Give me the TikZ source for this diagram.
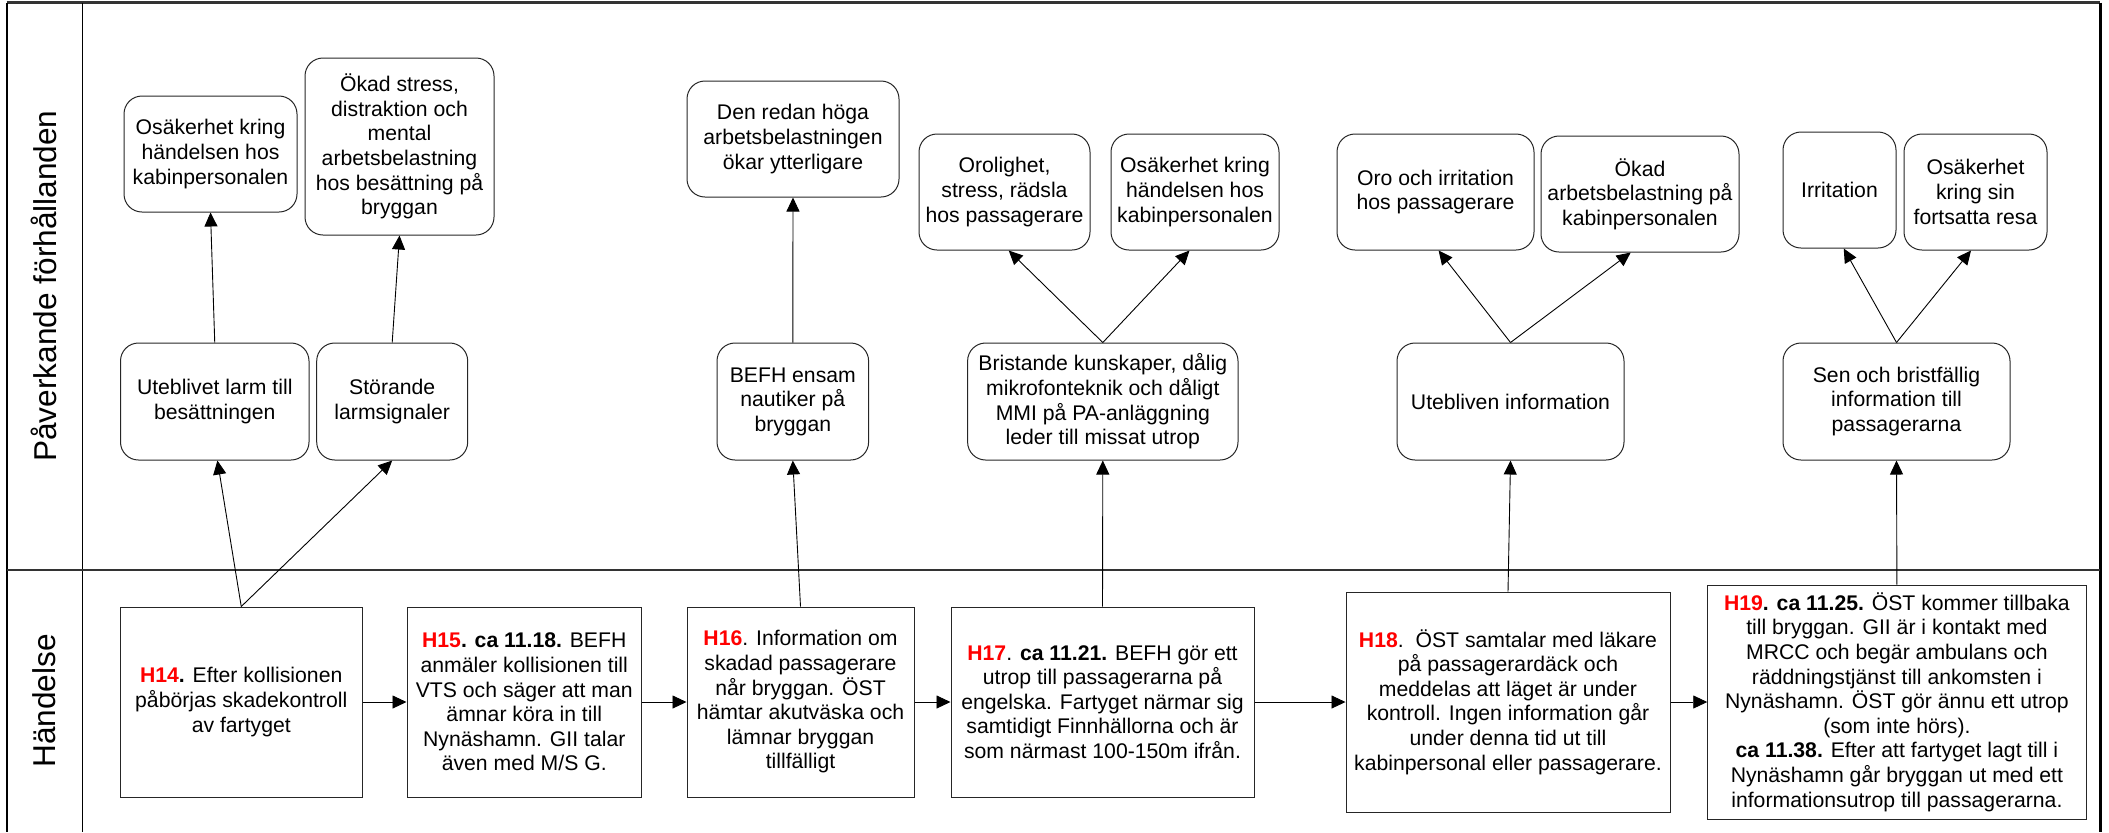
\documentclass[tikz,border=0pt]{standalone}
\usepackage{fontspec}
\setmainfont{Liberation Sans}
\usetikzlibrary{arrows.meta,calc}
\newcommand{\hid}[1]{\textcolor{red}{\bfseries #1}}
\begin{document}
\begin{tikzpicture}[x=0.5pt,y=-0.5pt,
  every node/.style={font=\fontsize{10.6}{12.3}\selectfont, align=center, inner sep=0pt},
  sz/.style 2 args={minimum width=#1*0.5pt, minimum height=#2*0.5pt},
  cbox/.style={draw=black!85, line width=0.5pt, rounded corners=9pt},
  ebox/.style={draw=black!85, line width=0.5pt},
  arr/.style={-{Triangle[length=7pt,width=6.5pt]}, line width=0.45pt},
  lane/.style={font=\fontsize{15.8}{18}\selectfont, rotate=90}
]
\useasboundingbox (0,0) rectangle (2109,832);

% frame
\draw[line width=1.4pt, black!80] (6.7,2.7) -- (2100,2.7);
\draw[line width=1.5pt] (2100,2.7) -- (2100,832);
\draw[line width=0.9pt] (6.7,2.7) -- (6.7,832);
\draw[line width=0.7pt] (82.5,2.7) -- (82.5,832);
\draw[line width=1pt, black!80] (6.7,570) -- (2100,570);

\node[lane] (L1) at (44,286) {Påverkande förhållanden};
\node[lane] (L2) at (44,701) {Händelse};

% top row
\node[cbox, sz={173}{116}] (A1) at (210.5,154) {Osäkerhet kring\\händelsen hos\\kabinpersonalen};
\node[cbox, sz={189}{177}] (A2) at (399.5,146.5) {Ökad stress,\\distraktion och\\mental\\arbetsbelastning\\hos besättning på\\bryggan};
\node[cbox, sz={212}{116}] (B1) at (793,139) {Den redan höga\\arbetsbelastningen\\ökar ytterligare};
\node[cbox, sz={171}{116}] (C1) at (1004.5,192) {Orolighet,\\stress, rädsla\\hos passagerare};
\node[cbox, sz={168}{116}] (C2) at (1195,192) {Osäkerhet kring\\händelsen hos\\kabinpersonalen};
\node[cbox, sz={197}{116}] (D1) at (1435.5,192) {Oro och irritation\\hos passagerare};
\node[cbox, sz={198}{116}] (D2) at (1640,194) {Ökad\\arbetsbelastning på\\kabinpersonalen};
\node[cbox, sz={113}{116}] (E1) at (1839.5,190) {Irritation};
\node[cbox, sz={143}{116}] (E2) at (1975.5,192) {Osäkerhet\\kring sin\\fortsatta resa};

% middle row
\node[cbox, sz={188.5}{117}] (a) at (214.75,401.5) {Uteblivet larm till\\besättningen};
\node[cbox, sz={151}{117}] (b) at (392.2,401.5) {Störande\\larmsignaler};
\node[cbox, sz={151.6}{117}] (c) at (792.8,401.5) {BEFH ensam\\nautiker på\\bryggan};
\node[cbox, sz={270.4}{117}] (d) at (1102.8,401.5) {Bristande kunskaper, dålig\\mikrofonteknik och dåligt\\MMI på PA-anläggning\\leder till missat utrop};
\node[cbox, sz={227}{117}] (e) at (1510.5,401.5) {Utebliven information};
\node[cbox, sz={227}{117}] (f) at (1896.5,401.5) {Sen och bristfällig\\information till\\passagerarna};

% event row
\node[ebox, sz={241.5}{190}] (H14) at (241.25,702) {\hid{H14}\textbf{.} Efter kollisionen\\påbörjas skadekontroll\\av fartyget};
\node[ebox, sz={234.5}{190}] (H15) at (524.25,702) {\hid{H15}\textbf{.} \textbf{ca 11.18.} BEFH\\anmäler kollisionen till\\VTS och säger att man\\ämnar köra in till\\Nynäshamn. GII talar\\även med M/S G.};
\node[ebox, sz={227}{190}] (H16) at (800.5,702) {\hid{H16}. Information om\\skadad passagerare\\når bryggan. ÖST\\hämtar akutväska och\\lämnar bryggan\\tillfälligt};
\node[ebox, sz={303}{190}] (H17) at (1102.5,702) {\hid{H17}. \textbf{ca 11.21.} BEFH gör ett\\utrop till passagerarna på\\engelska. Fartyget närmar sig\\samtidigt Finnhällorna och är\\som närmast 100-150m ifrån.};
\node[ebox, sz={324}{220}] (H18) at (1508,702) {\hid{H18}.\ \ ÖST samtalar med läkare\\på passagerardäck och\\meddelas att läget är under\\kontroll. Ingen information går\\under denna tid ut till\\kabinpersonal eller passagerare.};
\node[ebox, sz={378.3}{234}] (H19) at (1896.9,702) {\hid{H19}\textbf{. ca 11.25.} ÖST kommer tillbaka\\till bryggan. GII är i kontakt med\\MRCC och begär ambulans och\\räddningstjänst till ankomsten i\\Nynäshamn. ÖST gör ännu ett utrop\\(som inte hörs).\\\textbf{ca 11.38.} Efter att fartyget lagt till i\\Nynäshamn går bryggan ut med ett\\informationsutrop till passagerarna.};

% horizontal connectors
\draw[arr] (H14.east) -- (H15.west);
\draw[arr] (H15.east) -- (H16.west);
\draw[arr] (H16.east) -- (H17.west);
\draw[arr] (H17.east) -- (H18.west);
\draw[arr] (H18.east) -- (H19.west);

% vertical connectors
\draw[arr] (H14.north) -- ($(a.south)+(2.65,0)$);
\draw[arr] (H14.north) -- (b.south);
\draw[arr] (a.north) -- (A1.south);
\draw[arr] (b.north) -- (A2.south);
\draw[arr] (H16.north) -- (c.south);
\draw[arr] (c.north) -- (B1.south);
\draw[arr] (H17.north) -- (d.south);
\draw[arr] (d.north) -- ($(C1.south)+(4.2,0)$);
\draw[arr] (d.north) -- ($(C2.south)+(-5.5,0)$);
\draw[arr] (H18.north) -- (e.south);
\draw[arr] (e.north) -- ($(D1.south)+(3.1,0)$);
\draw[arr] (e.north) -- ($(D2.south)+(-9.3,0)$);
\draw[arr] (H19.north) -- (f.south);
\draw[arr] (f.north) -- ($(E1.south)+(4.2,0)$);
\draw[arr] (f.north) -- ($(E2.south)+(-4.5,0)$);
\end{tikzpicture}
\end{document}
